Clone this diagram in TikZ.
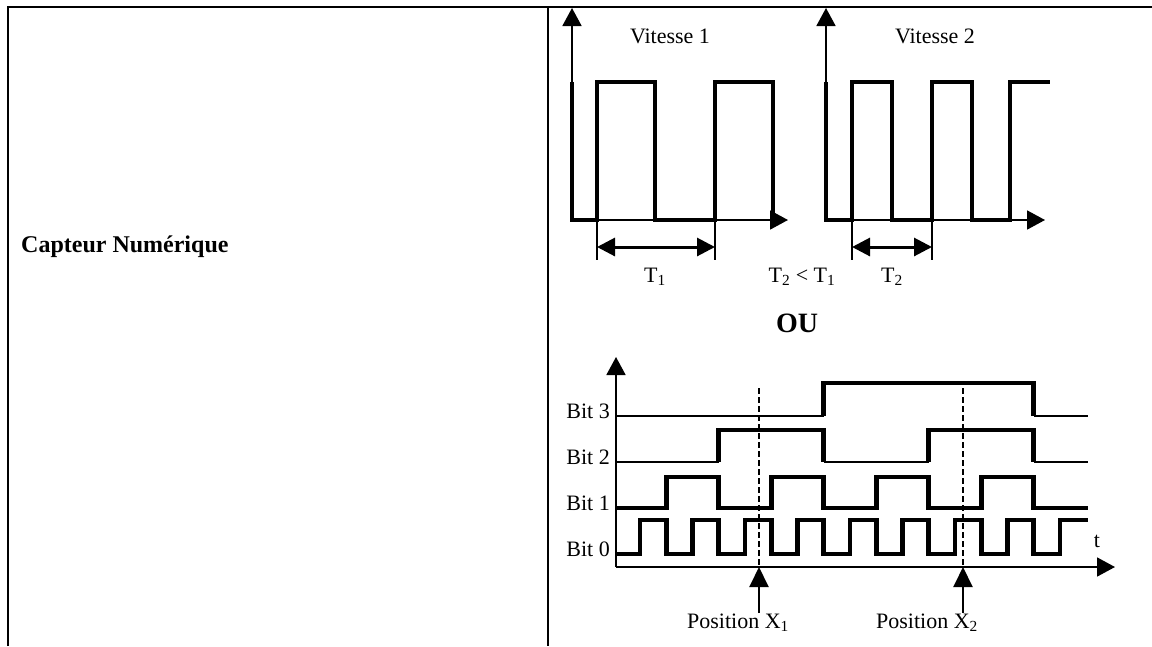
\documentclass[tikz,border=0pt]{standalone}
\usepackage{fontspec}
\setmainfont{Liberation Serif}
\usetikzlibrary{arrows.meta}
\tikzset{
  cadre/.style={line width=2pt},
  axe/.style={line width=1.8pt,-{Triangle[length=18pt,width=19pt]}},
  sig/.style={line width=4.8pt},
  sigbas/.style={line width=2.2pt},
  repere/.style={line width=1.4pt},
  cote/.style={line width=3pt,{Triangle[length=18pt,width=18pt]}-{Triangle[length=18pt,width=18pt]}},
  pointille/.style={line width=2pt,dash pattern=on 6pt off 3pt},
  fleche/.style={line width=2pt,-{Triangle[length=20pt,width=19pt]}},
  lbl/.style={font=\fontsize{22}{25}\selectfont,inner sep=0pt},
  titre/.style={font=\fontsize{24}{28}\selectfont\bfseries,inner sep=0pt},
  grand/.style={font=\fontsize{28}{32}\selectfont\bfseries,inner sep=0pt},
}

\begin{document}
\begin{tikzpicture}[x=1pt,y=-1pt]
  \useasboundingbox (0,0) rectangle (1152,646);
  % tableau
  \draw[cadre] (8,646) -- (8,7) -- (1152,7);
  \draw[cadre] (548,7) -- (548,646);
  \node[titre,anchor=base west] (capt) at (21,252) {Capteur Numérique};

  % vitesse 1
  \coordinate (o1) at (572,220);
  \coordinate (a1) at (597,247); \coordinate (b1) at (715,247);
  \draw[axe] (o1) -- (572,8);
  \draw[axe] (o1) -- (788,220);
  \draw[sig] (572,82) |- (597,220) |- (655,82) |- (715,220) |- (773,82) -- (773,220);
  \draw[repere] (597,222) -- (597,260) (715,222) -- (715,260);
  \draw[cote] (a1) -- (b1);
  \node[lbl,anchor=base] (v1) at (670,43) {Vitesse 1};
  \node[lbl,anchor=base] (per1) at (655,282) {T\textsubscript{1}};
  \node[lbl,anchor=base] (cmp) at (802,282) {T\textsubscript{2} < T\textsubscript{1}};

  % vitesse 2
  \coordinate (o2) at (826,220);
  \coordinate (a2) at (852,247); \coordinate (b2) at (932,247);
  \draw[axe] (o2) -- (826,8);
  \draw[axe] (o2) -- (1045,220);
  \draw[sig] (826,82) |- (852,220) |- (892,82) |- (932,220) |- (972,82) |- (1010,220) |- (1050,82);
  \draw[repere] (852,222) -- (852,260) (932,222) -- (932,260);
  \draw[cote] (a2) -- (b2);
  \node[lbl,anchor=base] (v2) at (935,43) {Vitesse 2};
  \node[lbl,anchor=base] (per2) at (892,282) {T\textsubscript{2}};

  \node[grand,anchor=base] (ou) at (797,332) {OU};

  % codeur 4 bits
  \coordinate (o3) at (616,567);
  \draw[axe] (o3) -- (616,357);
  \draw[axe] (o3) -- (1115,567);
  \node[lbl,anchor=base] (t) at (1097,547) {t};
  \node[lbl,anchor=base east] (b3) at (610,418) {Bit 3};
  \node[lbl,anchor=base east] (b2) at (610,464) {Bit 2};
  \node[lbl,anchor=base east] (b1) at (610,510) {Bit 1};
  \node[lbl,anchor=base east] (b0) at (610,556) {Bit 0};
  % bit 0
  \draw[sig] (616,554) -- (640,554)
    \foreach \k in {1,...,8}{ -- ++(0,-34) -- ++(26.25,0) -- ++(0,34) -- ++(26.25,0) }
    -- ++(0,-34) -- (1088,520);
  % bit 1
  \draw[sig] (616,508) -- (666.25,508)
    \foreach \k in {1,...,4}{ -- ++(0,-31) -- ++(52.5,0) -- ++(0,31) -- ++(52.5,0) }
    -- (1088,508);
  % bit 2
  \draw[sigbas] (616,462) -- (718.75,462) (823.75,462) -- (928.75,462) (1033.75,462) -- (1088,462);
  \draw[sig] (718.75,462) -- (718.75,430) -- (823.75,430) -- (823.75,462)
             (928.75,462) -- (928.75,430) -- (1033.75,430) -- (1033.75,462);
  % bit 3
  \draw[sigbas] (616,416) -- (823.75,416) (1033.75,416) -- (1088,416);
  \draw[sig] (823.75,416) -- (823.75,383) -- (1033.75,383) -- (1033.75,416);

  % positions
  \coordinate (x1) at (759,567); \coordinate (x2) at (963,567);
  \draw[pointille] (759,388) -- (x1);
  \draw[pointille] (963,388) -- (x2);
  \node[lbl,anchor=base west] (px1) at (687,628) {Position X\textsubscript{1}};
  \node[lbl,anchor=base west] (px2) at (876,628) {Position X\textsubscript{2}};
  \draw[fleche] (px1.north -| x1) -- (x1);
  \draw[fleche] (px2.north -| x2) -- (x2);
\end{tikzpicture}
\end{document}
